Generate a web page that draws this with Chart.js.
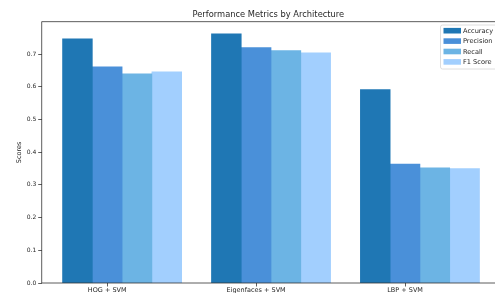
<!DOCTYPE html>
<html>
<head>
<meta charset="utf-8">
<script src="https://cdn.jsdelivr.net/npm/chart.js@4.4.0/dist/chart.umd.min.js"></script>
<style>
  html, body { margin: 0; padding: 0; background: #fff; overflow: hidden; }
  canvas { display: block; }
</style>
</head>
<body>
<canvas id="chart" width="495" height="293"></canvas>
<script>
// データ
const categories = ['HOG + SVM', 'Eigenfaces + SVM', 'LBP + SVM'];
const accuracy = [0.747, 0.762, 0.592];
const precision = [0.661, 0.720, 0.364];
const recall = [0.640, 0.711, 0.352];
const f1Score = [0.646, 0.704, 0.350];
const yTicks = [0.0, 0.1, 0.2, 0.3, 0.4, 0.5, 0.6, 0.7];

const seriesNames = ['Accuracy', 'Precision', 'Recall', 'F1 Score'];
const seriesValues = [accuracy, precision, recall, f1Score];
const seriesColors = ['#1f77b4', '#4a90d9', '#6cb4e4', '#a2cffe'];
const barWidth = 0.2;

const font = 'DejaVu Sans';

// 凡例と枠線(上・左・下)を描くプラグイン
const boxLegend = {
  id: 'boxLegend',
  afterDraw(chart) {
    const ctx = chart.ctx;
    const a = chart.chartArea;
    ctx.save();
    ctx.strokeStyle = '#333';
    ctx.lineWidth = 0.8;
    ctx.beginPath();
    ctx.moveTo(chart.width + 5, a.top);
    ctx.lineTo(a.left, a.top);
    ctx.lineTo(a.left, a.bottom);
    ctx.lineTo(chart.width + 5, a.bottom);
    ctx.stroke();
    // 凡例
    ctx.fillStyle = 'rgba(255,255,255,0.8)';
    ctx.strokeStyle = '#d6d6d6';
    ctx.beginPath();
    ctx.roundRect(440.5, 25, 70, 44, 2);
    ctx.fill();
    ctx.stroke();
    ctx.font = '6.6px "' + font + '"';
    ctx.textBaseline = 'middle';
    seriesNames.forEach((name, i) => {
      const cy = 30.7 + i * 10.4;
      ctx.fillStyle = seriesColors[i];
      ctx.fillRect(443.5, cy - 2.8, 17.5, 5.6);
      ctx.fillStyle = '#262626';
      ctx.fillText(name, 463, cy + 0.3);
    });
    ctx.restore();
  }
};

const datasets = seriesNames.map((name, s) => ({
  label: name,
  data: seriesValues[s].map((v, i) => ({ x: i + (s - 1) * barWidth, y: v })),
  backgroundColor: seriesColors[s],
  barPercentage: 1,
  categoryPercentage: 1,
  grouped: false,
}));

new Chart(document.getElementById('chart'), {
  type: 'bar',
  data: { datasets },
  plugins: [boxLegend],
  options: {
    responsive: false,
    animation: false,
    layout: { padding: 0 },
    plugins: {
      legend: { display: false },
      tooltip: { enabled: false },
      title: {
        display: true,
        fullSize: false,
        text: 'Performance Metrics by Architecture',
        color: '#262626',
        font: { family: font, size: 8.3, weight: 'normal' },
        padding: { top: 10, bottom: 1.7 },
      },
    },
    scales: {
      x: {
        type: 'linear',
        min: -0.44,
        max: 2.604,
        offset: false,
        afterBuildTicks: (scale) => { scale.ticks = categories.map((c, i) => ({ value: i })); },
        afterFit: (scale) => { scale.height = 10; },
        ticks: {
          callback: (v) => categories[v],
          color: '#262626',
          font: { family: font, size: 6.5 },
          padding: 0,
          maxRotation: 0,
          autoSkip: false,
        },
        grid: { offset: false, drawOnChartArea: false, tickLength: 3.5, color: '#333', lineWidth: 0.8 },
        border: { display: false },
      },
      y: {
        min: 0,
        max: 0.7995,
        afterBuildTicks: (scale) => { scale.ticks = yTicks.map((v) => ({ value: v })); },
        afterFit: (scale) => { scale.width = 41.7; },
        ticks: {
          callback: (v) => v.toFixed(1),
          color: '#262626',
          font: { family: font, size: 6 },
          padding: 2,
        },
        title: {
          display: true,
          text: 'Scores',
          color: '#262626',
          font: { family: font, size: 6.5 },
          padding: { top: 15, bottom: 0 },
        },
        grid: { drawOnChartArea: false, tickLength: 3.5, color: '#333', lineWidth: 0.8 },
        border: { display: false },
      },
    },
  },
});
</script>
</body>
</html>
